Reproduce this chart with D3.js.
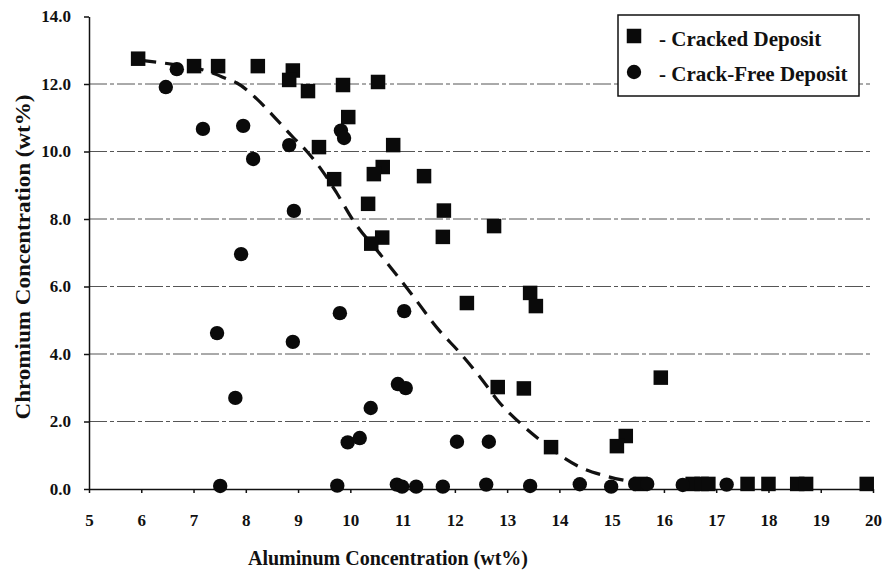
<!DOCTYPE html>
<html>
<head>
<meta charset="utf-8">
<script src="https://cdn.jsdelivr.net/npm/d3@7"></script>
<style>
  html, body { margin: 0; padding: 0; background: #fff; }
  svg { display: block; }
</style>
</head>
<body>
<svg id="chart" width="885" height="573"></svg>
<script>
// Al / Cr composition of deposits: [Al wt%, Cr wt%]
const cracked = [
  [5.94,12.75],[7.01,12.53],[7.47,12.53],[8.23,12.53],[8.90,12.40],[8.83,12.12],
  [9.19,11.79],[9.86,11.97],[10.53,12.06],[9.96,11.02],[9.40,10.13],[10.82,10.19],
  [9.69,9.18],[10.62,9.54],[10.45,9.33],[11.41,9.27],[10.34,8.45],[11.79,8.25],
  [11.77,7.47],[12.75,7.79],[10.61,7.45],[10.40,7.27],[12.23,5.51],[13.44,5.81],
  [13.55,5.42],[12.82,3.02],[13.32,2.98],[13.84,1.24],[15.94,3.30],[15.27,1.57],
  [15.10,1.27],[15.55,0.15],[16.55,0.15],[16.72,0.15],[16.85,0.15],[17.60,0.15],
  [18.00,0.15],[18.55,0.15],[18.72,0.15],[19.88,0.15]
];
const crackFree = [
  [6.68,12.44],[6.47,11.91],[7.18,10.67],[7.95,10.76],[8.14,9.78],[8.83,10.19],
  [9.82,10.62],[9.88,10.40],[8.92,8.24],[7.91,6.96],[7.45,4.62],[8.90,4.36],
  [7.80,2.70],[7.51,0.09],[9.80,5.21],[11.03,5.27],[10.91,3.11],[11.06,2.99],
  [10.39,2.40],[9.95,1.38],[10.18,1.51],[12.04,1.40],[12.65,1.40],[9.75,0.10],
  [10.89,0.13],[10.99,0.07],[11.26,0.07],[11.77,0.07],[12.60,0.13],[13.44,0.09],
  [14.39,0.14],[14.99,0.07],[15.45,0.15],[15.68,0.15],[16.36,0.12],[17.20,0.13]
];
// Boundary between cracked and crack-free regions
const boundary = [
  [6.0,12.70],[6.6,12.58],[7.26,12.38],[7.64,12.15],[7.83,12.03],[8.21,11.56],
  [8.6,10.93],[8.9,10.43],[9.17,10.0],[9.48,9.39],[9.74,8.77],[10.05,7.97],
  [10.6,6.90],[11.14,5.84],[11.7,4.70],[12.1,4.03],[12.48,3.32],[12.86,2.55],
  [13.25,1.95],[13.63,1.45],[14.01,1.00],[14.39,0.65],[14.83,0.41],[15.2,0.27],
  [15.5,0.20]
];
const xTicks = d3.range(5, 21, 1);
const yTicks = [0, 2, 4, 6, 8, 10, 12, 14];
const legendLabels = ["- Cracked Deposit", "- Crack-Free Deposit"];

const FONT = "'Liberation Serif', 'Times New Roman', Times, 'DejaVu Serif', serif";
const svg = d3.select("#chart");
const x = d3.scaleLinear().domain([5, 20]).range([89, 873]);
const y = d3.scaleLinear().domain([0, 14]).range([489, 16.5]);

// horizontal grid lines
svg.append("g")
  .selectAll("line")
  .data(yTicks.filter(d => d > 0 && d < 14))
  .join("line")
  .attr("x1", x(5)).attr("x2", x(20))
  .attr("y1", d => y(d)).attr("y2", d => y(d))
  .attr("stroke", "#555")
  .attr("stroke-width", 1)
  .attr("stroke-dasharray", "18,3,4,3");

// axes
const yAxis = svg.append("g")
  .attr("transform", `translate(${x(5)},0)`)
  .call(d3.axisLeft(y).tickValues(yTicks).tickFormat(d3.format(".1f"))
    .tickSize(5).tickSizeOuter(0).tickPadding(13));
const xAxis = svg.append("g")
  .attr("transform", `translate(0,${y(0)})`)
  .call(d3.axisBottom(x).tickValues(xTicks).tickFormat(d3.format("d"))
    .tickSize(4).tickSizeOuter(0).tickPadding(21));
[yAxis, xAxis].forEach(g => {
  g.attr("font-family", null).attr("font-size", null);
  g.style("font-family", FONT).style("font-size", "17px").style("font-weight", "bold");
  g.selectAll("path, line").attr("stroke", "#111").attr("stroke-width", 1.5);
  g.selectAll("text").attr("fill", "#111");
});

// boundary curve
svg.append("path")
  .datum(boundary)
  .attr("fill", "none")
  .attr("stroke", "#111")
  .attr("stroke-width", 3.2)
  .attr("stroke-dasharray", "15,9")
  .attr("d", d3.line().x(d => x(d[0])).y(d => y(d[1])).curve(d3.curveMonotoneX));

// markers
const S = 14.5;
svg.append("g")
  .selectAll("rect")
  .data(cracked)
  .join("rect")
  .attr("x", d => x(d[0]) - S / 2)
  .attr("y", d => y(d[1]) - S / 2)
  .attr("width", S).attr("height", S)
  .attr("fill", "#0a0a0a");
svg.append("g")
  .selectAll("circle")
  .data(crackFree)
  .join("circle")
  .attr("cx", d => x(d[0]))
  .attr("cy", d => y(d[1]))
  .attr("r", 7.2)
  .attr("fill", "#0a0a0a");

// axis titles
const titles = svg.append("g")
  .style("font-family", FONT).style("font-weight", "bold").attr("fill", "#111");
titles.append("text")
  .attr("x", 388).attr("y", 565)
  .attr("text-anchor", "middle")
  .attr("textLength", 280)
  .attr("lengthAdjust", "spacingAndGlyphs")
  .style("font-size", "20px")
  .text("Aluminum Concentration (wt%)");
titles.append("text")
  .attr("transform", "translate(30,257) rotate(-90)")
  .attr("text-anchor", "middle")
  .attr("textLength", 325)
  .attr("lengthAdjust", "spacingAndGlyphs")
  .style("font-size", "21px")
  .text("Chromium Concentration (wt%)");

// legend
const lg = svg.append("g");
lg.append("rect")
  .attr("x", 618).attr("y", 15).attr("width", 241).attr("height", 81)
  .attr("fill", "#fff").attr("stroke", "#111").attr("stroke-width", 1.5);
lg.append("rect")
  .attr("x", 634 - S / 2).attr("y", 36 - S / 2).attr("width", S).attr("height", S)
  .attr("fill", "#0a0a0a");
lg.append("circle").attr("cx", 634).attr("cy", 72).attr("r", 7.2).attr("fill", "#0a0a0a");
lg.selectAll("text.lab")
  .data(legendLabels)
  .join("text")
  .attr("class", "lab")
  .attr("x", 659)
  .attr("y", (d, i) => i === 0 ? 46 : 81)
  .style("font-family", FONT).style("font-weight", "bold").style("font-size", "21px")
  .attr("fill", "#111")
  .text(d => d);
</script>
</body>
</html>
